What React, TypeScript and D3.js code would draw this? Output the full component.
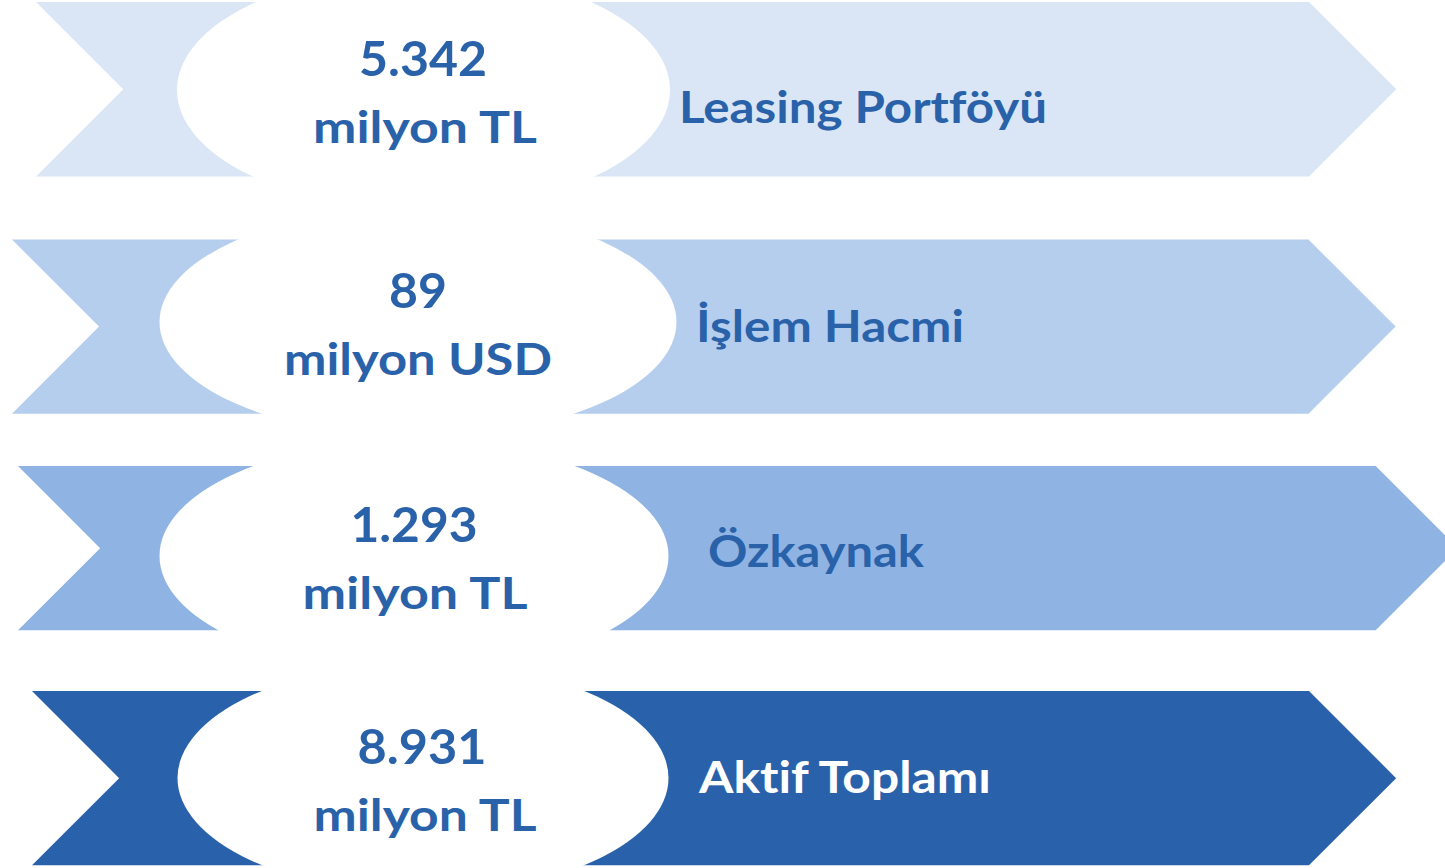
import React from "react";
import * as d3 from "d3";

// ---- data ----
const values = ["5.342", "89", "1.293", "8.931"];
const units = ["milyon TL", "milyon USD", "milyon TL", "milyon TL"];
const labels = ["Leasing Portföyü", "İşlem Hacmi", "Özkaynak", "Aktif Toplamı"];

// ---- styling / layout ----
const fills = ["#DAE6F6", "#B5CEEE", "#8FB4E3", "#2962AA"];
const labelColors = ["#2A62AA", "#2A62AA", "#2A62AA", "#FFFFFF"];
const textColor = "#2A62AA";

const rows = [
  { top: 2, bottom: 176.5, left: 36, flat: 1309, cx: 423.5, cy: 90, rx: 246.5, ry: 120, numW: 128, unitW: 224, labX: 679, labY: 123.3, labW: 368 },
  { top: 239.5, bottom: 413.7, left: 12, flat: 1308.5, cx: 418, cy: 322, rx: 258.5, ry: 115, numW: 58, unitW: 268, labX: 696, labY: 341.7, labW: 268 },
  { top: 466, bottom: 630.3, left: 18, flat: 1375.7, cx: 414, cy: 556, rx: 254.5, ry: 116, numW: 127, unitW: 225, labX: 708, labY: 566.7, labW: 216 },
  { top: 691, bottom: 865.3, left: 32, flat: 1309, cx: 423, cy: 778, rx: 245.5, ry: 115.5, numW: 129, unitW: 223, labX: 699, labY: 793.3, labW: 292 },
];
const numCenters = [423, 418, 414, 422];
const unitCenters = [425, 418, 415, 425];

const FONT = "Lato, 'Open Sans', sans-serif";
const textStyle: React.CSSProperties = {
  fontVariantLigatures: "none",
  fontFeatureSettings: '"liga" 0, "clig" 0',
};

export default function App() {
  const line = d3.line<[number, number]>();
  return (
    <svg
      width={1445}
      height={868}
      style={{ position: "absolute", left: 0, top: 0, background: "#fff" }}
    >
      {rows.map((r, i) => {
        const h = r.bottom - r.top;
        const mid = (r.top + r.bottom) / 2;
        const pts: [number, number][] = [
          [r.left, r.top],
          [r.flat, r.top],
          [r.flat + h / 2, mid],
          [r.flat, r.bottom],
          [r.left, r.bottom],
          [r.left + h / 2, mid],
        ];
        return (
          <g key={i}>
            <path d={(line(pts) || "") + "Z"} fill={fills[i]} />
            <ellipse cx={r.cx} cy={r.cy} rx={r.rx} ry={r.ry} fill="#fff" />
            <text
              x={numCenters[i]}
              y={r.cy - 14}
              textAnchor="middle"
              fontFamily={FONT}
              fontWeight={700}
              fontSize={47}
              fill={textColor}
              textLength={r.numW}
              lengthAdjust="spacingAndGlyphs"
              style={textStyle}
            >
              {values[i]}
            </text>
            <text
              x={unitCenters[i]}
              y={r.cy + 53}
              textAnchor="middle"
              fontFamily={FONT}
              fontWeight={700}
              fontSize={43}
              fill={textColor}
              textLength={r.unitW}
              lengthAdjust="spacingAndGlyphs"
              style={textStyle}
            >
              {units[i]}
            </text>
            <text
              x={r.labX}
              y={r.labY}
              fontFamily={FONT}
              fontWeight={700}
              fontSize={43}
              fill={labelColors[i]}
              textLength={r.labW}
              lengthAdjust="spacingAndGlyphs"
              style={textStyle}
            >
              {labels[i]}
            </text>
          </g>
        );
      })}
    </svg>
  );
}
